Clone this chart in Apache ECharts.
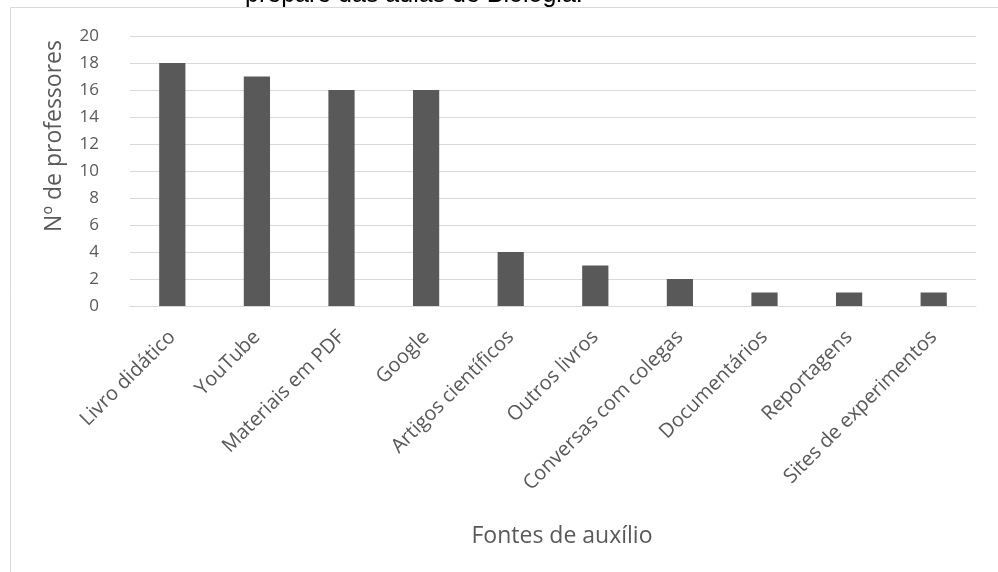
<!DOCTYPE html>
<html>
<head>
<meta charset="utf-8">
<script src="https://cdn.jsdelivr.net/npm/echarts@6/dist/echarts.min.js"></script>
<style>html,body{margin:0;padding:0;background:#fff;}#c{width:998px;height:572px;}</style>
</head>
<body>
<div id="c"></div>
<script>
const categories = ["Livro didático","YouTube","Materiais em PDF","Google","Artigos científicos","Outros livros","Conversas com colegas","Documentários","Reportagens","Sites de experimentos"];
const values = [18,17,16,16,4,3,2,1,1,1];
const yTicks = {min:0, max:20, interval:2};
const titleText = "prepare das aulas de Biologia.";
const yName = "Nº de professores";
const xName = "Fontes de auxílio";

const chart = echarts.init(document.getElementById('c'), null, {renderer:'canvas'});
const font = "'Open Sans', sans-serif";
chart.setOption({
  animation:false,
  backgroundColor:'#fff',
  grid:{left:130, right:22, top:36, bottom:266, containLabel:false},
  xAxis:{
    type:'category', data:categories,
    axisLine:{show:true, lineStyle:{color:'#d9d9d9', width:1}},
    axisTick:{show:false},
    axisLabel:{rotate:45, interval:0, color:'#595959', fontSize:20, fontFamily:font, margin:28}
  },
  yAxis:{
    type:'value', min:yTicks.min, max:yTicks.max, interval:yTicks.interval,
    axisLine:{show:false}, axisTick:{show:false},
    splitLine:{lineStyle:{color:'#d9d9d9', width:1}},
    axisLabel:{color:'#595959', fontSize:17, fontFamily:font, margin:31}
  },
  series:[{type:'bar', data:values, barWidth:'31%', itemStyle:{color:'#595959'}}],
  graphic:[
    {type:'rect', shape:{x:10.5, y:7.5, width:1200, height:800}, style:{fill:'none', stroke:'#d9d9d9', lineWidth:1}, silent:true, z:-1},
    {type:'text', x:245, y:8, style:{text:titleText, fill:'#000', font:"25px 'Liberation Sans', Arial, sans-serif", textAlign:'left', textVerticalAlign:'bottom'}},
    {type:'text', x:54, y:136, rotation:Math.PI/2, style:{text:yName, fill:'#595959', font:"23px 'Open Sans', sans-serif", textAlign:'center', textVerticalAlign:'middle'}},
    {type:'text', x:562, y:536, style:{text:xName, fill:'#595959', font:"23px 'Open Sans', sans-serif", textAlign:'center', textVerticalAlign:'middle'}}
  ]
});
</script>
</body>
</html>
